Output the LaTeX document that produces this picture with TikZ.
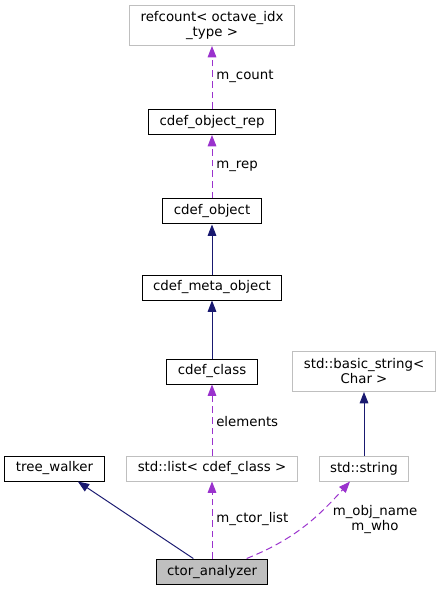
\documentclass[tikz,border=0pt]{standalone}
\usepackage{fontspec}
\setmainfont{DejaVu Sans}
\usetikzlibrary{positioning,arrows.meta}

\definecolor{inhcol}{HTML}{191970}
\definecolor{usecol}{HTML}{9A32CD}
\definecolor{undoc}{HTML}{BFBFBF}

\tikzset{
  cls/.style={draw=black, line width=0.75pt, inner xsep=8.25pt, inner ysep=0pt,
    minimum height=18.75pt, align=center, font=\fontsize{10pt}{11.25pt}\selectfont},
  extcls/.style={cls, draw=undoc},
  focus/.style={cls, fill=undoc},
  inh/.style={draw=inhcol, line width=0.75pt, -{Triangle[length=8.5pt,width=6.5pt]}},
  use/.style={draw=usecol, line width=0.75pt, dash pattern=on 5pt off 3pt,
    -{Triangle[length=8.5pt,width=6.5pt]}},
  lbl/.style={inner sep=0pt, align=center, font=\fontsize{10pt}{11.25pt}\selectfont}
}

\begin{document}
\begin{tikzpicture}[x=0.75pt, y=-0.75pt]
\useasboundingbox (0,0) rectangle (439,591);
\def\xl{54.5}
\def\xm{212}
\def\xr{364}

\def\ya{25.5}
\def\yb{122}
\def\yc{211.5}
\def\yd{287.5}
\def\ye{371.5}
\def\yf{468.5}
\def\yg{571.5}

\node[extcls, minimum height=30pt](refc) at (\xm, \ya) {refcount< octave\_idx\\\_type >};
\node[cls](rep) at (\xm, \yb) {cdef\_object\_rep};
\node[cls](obj) at (\xm, \yc) {cdef\_object};
\node[cls](meta) at (\xm, \yd) {cdef\_meta\_object};
\node[cls](cls) at (\xm, \ye) {cdef\_class};
\node[extcls, minimum height=30pt](bstr) at (\xr, \ye) {std::basic\_string<\\Char >};
\node[cls](walker) at (\xl, \yf) {tree\_walker};
\node[extcls](lst) at (\xm, \yf) {std::list< cdef\_class >};
\node[extcls](str) at (\xr, \yf) {std::string};
\node[focus](ctor) at (\xm, \yg) {ctor\_analyzer};

\draw[use] (rep) -- (refc);
\draw[use] (obj) -- (rep);
\draw[inh] (meta) -- (obj);
\draw[inh] (cls) -- (meta);
\draw[use] (lst) -- (cls);
\draw[inh] (str) -- (bstr);
\draw[use] (ctor) -- (lst);
\draw[inh] ([xshift=-14pt]ctor.north) -- ([xshift=17.5pt]walker.south);
\draw[use] ([xshift=26pt]ctor.north) to [out=22, in=-132] ([xshift=-10.5pt]str.south);

\node[lbl, anchor=west] at (216, 76) {m\_count};
\node[lbl, anchor=west] at (216, 166) {m\_rep};
\node[lbl, anchor=west] at (216, 422) {elements};
\node[lbl, anchor=west] at (216, 519) {m\_ctor\_list};
\node[lbl] at (375, 519.5) {m\_obj\_name\\m\_who};

\end{tikzpicture}
\end{document}
